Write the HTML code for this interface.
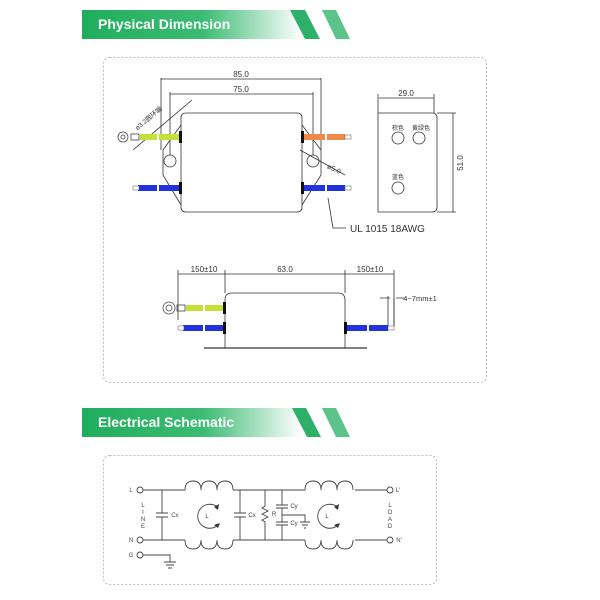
<!DOCTYPE html>
<html><head><meta charset="utf-8"><style>
html,body{margin:0;padding:0;background:#fff;width:600px;height:600px;overflow:hidden}
svg{display:block}
text{font-family:"Liberation Sans","Noto Sans CJK SC",sans-serif}
</style></head><body>
<svg width="600" height="600" viewBox="0 0 600 600" xmlns="http://www.w3.org/2000/svg">
<defs>
<linearGradient id="g" x1="0" x2="1" y1="0" y2="0">
<stop offset="0" stop-color="#1fae5d"/><stop offset="0.55" stop-color="#3dbb73"/><stop offset="1" stop-color="#ffffff"/>
</linearGradient>
</defs>
<!-- header 1 -->
<rect x="82" y="10" width="220" height="29" fill="url(#g)"/>
<polygon points="290,10 305,10 320,39 305,39" fill="#2fb06a"/>
<polygon points="322,10 336,10 350,39 336,39" fill="#5cc48a"/>
<text x="98" y="29" font-size="14" font-weight="bold" fill="#fff">Physical Dimension</text>
<rect x="103.5" y="57.5" width="383" height="325" rx="6" fill="none" stroke="#bbb" stroke-dasharray="2,2"/>

<g stroke="#333" fill="none" stroke-width="0.8">
<path d="M181,118 Q181,113 186,113 L297,113 Q302,113 302,118 L302,207 Q302,212 297,212 L186,212 Q181,212 181,207 Z"/>
<path d="M181,125 L163,150 L163,175 L181,205"/>
<path d="M302,125 L321,150 L321,175 L302,205"/>
<circle cx="170" cy="161" r="6"/><circle cx="313" cy="161" r="6"/>
<path d="M161,78 V150 M321,78 V150 M170,92 V155 M313,92 V155"/>
<path d="M161,79 H321 M170,94 H313"/>
<path d="M133,150 L192,100"/>
<path d="M300,150 L345,175"/>
<path d="M328,198 L333,228 H346"/>
<path d="M378,113 H432 Q437,113 437,118 V207 Q437,212 432,212 H378 Z"/>
<circle cx="398" cy="138" r="6"/><circle cx="419" cy="138" r="6"/><circle cx="398" cy="188" r="6"/>
<path d="M378,94 V113 M434,94 V113 M379,98 H434 M437,113 H456 M437,212 H456 M453,113 V212"/>
<path d="M225,348 V300 Q225,293 232,293 L338,293 Q345,293 345,300 V348"/>
<path d="M204,348 H367" stroke-width="1.2"/>
<path d="M178,270 V320 M225,270 V293 M345,270 V293 M394,270 V326 M178,274 H394"/>
<path d="M380,298 H390 M396,298 H404 M388,296 V326 M394,298 V326"/>
</g>
<g stroke-width="0">
<rect x="140" y="134" width="40" height="6" fill="#c6e03a"/>
<rect x="303" y="134" width="42" height="6" fill="#f08a4b"/>
<rect x="345" y="135" width="6" height="4" fill="#fff" stroke="#555" stroke-width="0.5"/>
<rect x="138" y="185" width="42" height="6" fill="#2233dd"/>
<rect x="303" y="185" width="42" height="6" fill="#2233dd"/>
<rect x="133" y="186" width="6" height="4" fill="#fff" stroke="#555" stroke-width="0.5"/>
<rect x="345" y="186" width="6" height="4" fill="#fff" stroke="#555" stroke-width="0.5"/>
<rect x="179" y="131" width="3" height="12" fill="#111"/>
<rect x="179" y="182" width="3" height="12" fill="#111"/>
<rect x="301" y="131" width="3" height="12" fill="#111"/>
<rect x="301" y="182" width="3" height="12" fill="#111"/>
<rect x="186" y="305" width="39" height="6" fill="#c6e03a"/>
<rect x="183" y="325" width="42" height="6" fill="#2233dd"/>
<rect x="345" y="325" width="43" height="6" fill="#2233dd"/>
<rect x="388" y="326" width="6" height="4" fill="#fff" stroke="#555" stroke-width="0.5"/>
<rect x="178" y="326" width="6" height="4" fill="#fff" stroke="#555" stroke-width="0.5"/>
<rect x="223" y="302" width="3" height="12" fill="#111"/>
<rect x="223" y="322" width="3" height="12" fill="#111"/>
<rect x="344" y="322" width="3" height="12" fill="#111"/>
<!-- wire breaks -->
<g fill="#fff">
<rect x="157" y="133" width="2" height="8"/><rect x="157" y="184" width="2" height="8"/>
<rect x="325" y="133" width="2" height="8"/><rect x="325" y="184" width="2" height="8"/>
<rect x="203" y="304" width="2" height="8"/><rect x="203" y="324" width="2" height="8"/>
<rect x="367" y="324" width="2" height="8"/>
</g>
</g>
<g fill="none" stroke="#444" stroke-width="0.8">
<circle cx="123" cy="137" r="5"/><circle cx="123" cy="137" r="2"/>
<rect x="131" y="134" width="8" height="6"/>
<circle cx="169" cy="308" r="6"/><circle cx="169" cy="308" r="3"/>
<rect x="177" y="305" width="8" height="6"/>
</g>
<g font-size="8" fill="#333" text-anchor="middle">
<text x="241" y="77">85.0</text>
<text x="241" y="92">75.0</text>
<text x="406" y="96">29.0</text>
<text x="204" y="272">150±10</text>
<text x="285" y="272">63.0</text>
<text x="370" y="272">150±10</text>
<text x="420" y="301" font-size="7.5">4−7mm±1</text>
<text x="398" y="130" font-size="6">棕色</text>
<text x="421" y="130" font-size="6">黄绿色</text>
<text x="398" y="179" font-size="6">蓝色</text>
<text x="0" y="0" transform="translate(463,163) rotate(-90)">51.0</text>
<text x="0" y="0" transform="translate(150,120) rotate(-40)" font-size="6.5">ø3.2圆环端</text>
<text x="0" y="0" transform="translate(333,171) rotate(25)" font-size="7">ø5.0</text>
</g>
<text x="350" y="232" font-size="10" fill="#333">UL  1015  18AWG</text>

<rect x="82" y="408" width="220" height="29" fill="url(#g)"/>
<polygon points="292,408 306,408 321,437 307,437" fill="#2fb06a"/>
<polygon points="322,408 336,408 350,437 336,437" fill="#5cc48a"/>
<text x="98" y="427" font-size="14" font-weight="bold" fill="#fff">Electrical Schematic</text>
<rect x="103.5" y="455.5" width="333" height="129" rx="6" fill="none" stroke="#bbb" stroke-dasharray="2,2"/>

<g fill="none" stroke="#444" stroke-width="0.9">
<circle cx="140" cy="490" r="3"/><circle cx="140" cy="540" r="3"/><circle cx="140" cy="555" r="3"/>
<circle cx="390" cy="490" r="3"/><circle cx="390" cy="540" r="3"/>
<path d="M143,490 H185 M233,490 H305 M355,490 H387"/>
<path d="M143,540 H185 M233,540 H305 M355,540 H387"/>
<path d="M185,490 q0,-9 8,-9 q8,0 8,9 q0,-9 8,-9 q8,0 8,9 q0,-9 8,-9 q8,0 8,9"/>
<path d="M305,490 q0,-9 8,-9 q8,0 8,9 q0,-9 8,-9 q8,0 8,9 q0,-9 8,-9 q8,0 8,9"/>
<path d="M185,540 q0,9 8,9 q8,0 8,-9 q0,9 8,9 q8,0 8,-9 q0,9 8,9 q8,0 8,-9"/>
<path d="M305,540 q0,9 8,9 q8,0 8,-9 q0,9 8,9 q8,0 8,-9 q0,9 8,9 q8,0 8,-9"/>
<path d="M162,490 V513 M156,513 H168 M156,517 H168 M162,517 V540"/>
<path d="M240,490 V513 M234,513 H246 M234,517 H246 M240,517 V540"/>
<path d="M265,490 V506 l-3,2 6,3 -6,3 6,3 -6,3 3,2 V540"/>
<path d="M282,490 V505 M276,505 H288 M276,508 H288 M282,508 V522 M276,522 H288 M276,525 H288 M282,525 V540"/>
<path d="M282,515 H305 V522 M300,522 H310 M302,525 H308 M304,528 H306"/>
<path d="M143,555 H170 V562 M164,562 H176 M166,565 H174 M168,568 H172"/>
<path d="M216,506 A12,12 0 1 0 218,525"/>
<path d="M336,506 A12,12 0 1 0 338,525"/>
</g>
<g fill="#333">
<polygon points="219,504 214,507 218,510"/>
<polygon points="220,523 214,525 218,528"/>
<polygon points="339,504 334,507 338,510"/>
<polygon points="340,523 334,525 338,528"/>
</g>
<g font-size="6" fill="#444" text-anchor="middle">
<text x="131" y="492">L</text><text x="131" y="542">N</text><text x="131" y="557">G</text>
<text x="398" y="492">L'</text><text x="399" y="542">N'</text>
<text x="143" y="507">L</text><text x="143" y="514">I</text><text x="143" y="521">N</text><text x="143" y="528">E</text>
<text x="390" y="507">L</text><text x="390" y="514">O</text><text x="390" y="521">A</text><text x="390" y="528">D</text>
<text x="175" y="517">Cx</text><text x="252" y="517">Cx</text><text x="274" y="516">R</text>
<text x="294" y="508">Cy</text><text x="294" y="525">Cy</text>
<text x="207" y="518">L</text><text x="327" y="518">L</text>
</g>
</svg>
</body></html>
